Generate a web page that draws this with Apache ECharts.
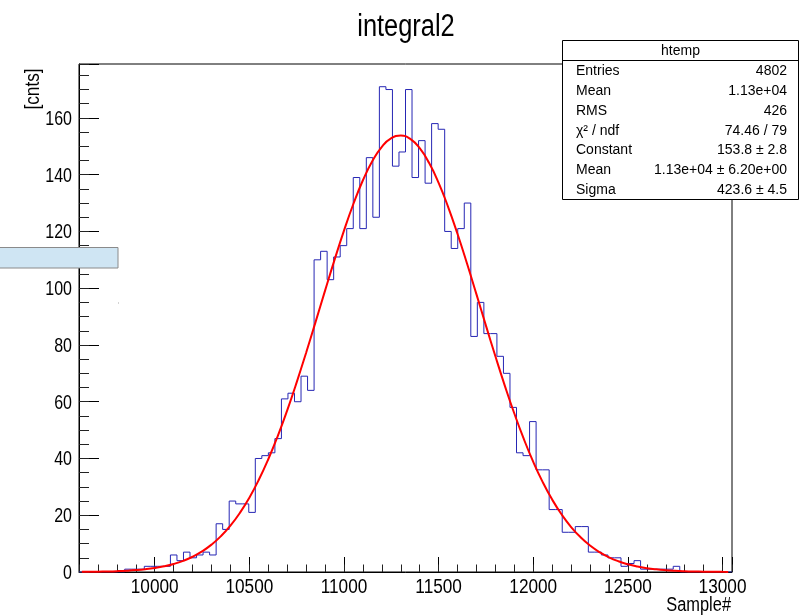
<!DOCTYPE html>
<html><head><meta charset="utf-8">
<script src="https://cdn.jsdelivr.net/npm/echarts@6/dist/echarts.min.js"></script>
<style>html,body{margin:0;padding:0;background:#fff}#c{width:800px;height:615px}</style>
</head><body><div id="c"></div>
<script>
// ---- data ----
const xMin = 9600, xMax = 13050, yMax = 179;
const counts = [
  0,0,0,0,0,0,0,1,1,1,
  2,2,2,2,6,4,7,5,6,7,
  6,17,15,25,24,24,21,40,41,42,
  47,61,63,60,69,64,110,113,103,111,
  115,121,139,121,146,125,171,170,143,148,
  170,139,152,137,158,156,120,114,121,130,
  83,95,84,84,76,70,58,42,41,53,
  36,36,22,22,14,14,16,16,7,7,
  6,5,5,2,3,4,1,1,1,1,
  1,2,0,0,0,0,0,0,0,0
];
const fitX = [9615,9650,9700,9750,9800,9850,9900,9950,10000,10050,10100,10150,10200,10250,10300,10350,10400,10450,10500,10550,10600,10650,10700,10750,10800,10850,10900,10950,11000,11050,11100,11150,11200,11250,11300,11350,11400,11450,11500,11550,11600,11650,11700,11750,11800,11850,11900,11950,12000,12050,12100,12150,12200,12250,12300,12350,12400,12450,12500,12550,12600,12650,12700,12750,12800,12850,12900,12950,13000,13030];
const fitY = [0.059,0.080,0.126,0.195,0.299,0.450,0.669,0.980,1.417,2.020,2.839,3.935,5.378,7.250,9.639,12.638,16.336,20.834,26.197,32.485,39.724,47.900,56.971,66.815,77.277,88.137,99.136,109.965,120.288,129.755,138.035,144.813,149.820,152.856,153.796,152.601,149.320,144.088,137.116,128.675,119.086,108.685,97.816,86.820,75.996,65.597,55.836,46.876,38.806,31.678,25.506,20.251,15.851,12.243,9.324,7.001,5.184,3.785,2.727,1.936,1.356,0.937,0.638,0.428,0.284,0.185,0.119,0.076,0.048,0.037];
const xTicks = [10000,10500,11000,11500,12000,12500,13000];
const yTicks = [0,20,40,60,80,100,120,140,160];
const statNames = ['Entries','Mean','RMS','\u03c7\u00b2 / ndf','Constant','Mean','Sigma'];
const statValues = ['4802','1.13e+04','426','74.46 / 79','153.8 \u00b1 2.8','1.13e+04 \u00b1 6.20e+00','423.6 \u00b1 4.5'];
const titleText = 'integral2', statTitle = 'htemp', xName = 'Sample#', yName = '[cnts]';

// ---- build ----
const nBins = counts.length, binW = (xMax - xMin) / nBins;
const histPts = counts.map((c, i) => [xMin + i * binW, c]);
histPts.push([xMax, counts[nBins - 1]]);
const fitPts = fitX.map((x, i) => [x, fitY[i]]);

const SANS = "'Liberation Sans',Arial,Helvetica,sans-serif";

const chart = echarts.init(document.getElementById('c'), null, {renderer:'canvas'});
chart.setOption({
  animation:false,
  backgroundColor:'#fff',
  grid:{left:79, right:68, top:64, bottom:43, show:true, borderColor:'#000', borderWidth:1, backgroundColor:'transparent', containLabel:false},
  xAxis:[
    {type:'value', min:xMin, max:xMax, splitNumber:5, minInterval:500, maxInterval:500,
     axisLine:{show:true, onZero:false, lineStyle:{color:'#000', width:1}},
     axisTick:{show:true, inside:true, length:15, lineStyle:{color:'#000'}},
     axisLabel:{show:false}, splitLine:{show:false}},
    {type:'value', min:xMin, max:xMax, interval:100, position:'bottom',
     axisLine:{show:false}, axisTick:{show:true, inside:true, length:7.5, lineStyle:{color:'#222'}},
     axisLabel:{show:false}, splitLine:{show:false}}
  ],
  yAxis:[
    {type:'value', min:0, max:yMax, interval:20, position:'left',
     axisLine:{show:true, onZero:false, lineStyle:{color:'#000', width:1}},
     axisTick:{show:true, inside:true, length:20, lineStyle:{color:'#000'}},
     axisLabel:{show:false}, splitLine:{show:false}},
    {type:'value', min:0, max:yMax, interval:5, position:'left', offset:0,
     axisLine:{show:false}, axisTick:{show:true, inside:true, length:10, lineStyle:{color:'#222'}},
     axisLabel:{show:false}, splitLine:{show:false}}
  ],
  series:[
    {type:'line', xAxisIndex:0, yAxisIndex:0, data:histPts, step:'end', symbol:'none', silent:true,
     lineStyle:{color:'#2626b4', width:1}, z:3},
    {type:'line', xAxisIndex:0, yAxisIndex:0, data:fitPts, smooth:true, symbol:'none', silent:true,
     lineStyle:{color:'#ff0000', width:2}, z:4}
  ]
});

// ---- texts & decorations (tick labels positioned through the axis scales) ----
const gfx = [];
function txt(t, x, y, size, align, opts) {
  return Object.assign({type:'text', x:x, y:y, z:102,
    style:{text:t, fontSize:size, fontFamily:SANS, fill:'#000', align:align, verticalAlign:'middle'}}, opts || {});
}
xTicks.forEach(v => {
  const px = chart.convertToPixel({xAxisIndex:0}, v);
  gfx.push(txt(String(v), px, 587.5, 20, 'center', {scaleX:0.86}));
});
yTicks.forEach(v => {
  const py = chart.convertToPixel({yAxisIndex:0}, v);
  gfx.push(txt(String(v), 72, py + 1.5, 20, 'right', {scaleX:0.8}));
});
gfx.push(txt(titleText, 406, 27, 31, 'center', {scaleX:0.82}));
gfx.push(txt(yName, 33, 89, 20, 'center', {rotation:Math.PI/2, scaleX:0.86}));
gfx.push(txt(xName, 731, 605, 20, 'right', {scaleX:0.82}));
// stray widget box on the left
gfx.push({type:'rect', z:50, shape:{x:-1, y:247.5, width:119, height:20.5}, style:{fill:'#cfe5f3', stroke:'#8a8a8a', lineWidth:1}});
gfx.push({type:'rect', z:50, shape:{x:118, y:302.5, width:1, height:1}, style:{fill:'#aaa'}});
// stats box
const bx = 562.5, by = 40.5, bw = 236, bh = 159;
gfx.push({type:'rect', z:100, shape:{x:bx, y:by, width:bw, height:bh}, style:{fill:'#fff', stroke:'#000', lineWidth:1}});
gfx.push({type:'line', z:101, shape:{x1:bx, y1:60.5, x2:bx+bw, y2:60.5}, style:{stroke:'#000', lineWidth:1}});
gfx.push(txt(statTitle, bx + bw/2, 51, 14, 'center'));
statNames.forEach((n, i) => {
  const yy = 71.3 + i * 19.8;
  gfx.push(txt(n, 576, yy, 14, 'left'));
  gfx.push(txt(statValues[i], 787, yy, 14, 'right'));
});
chart.setOption({graphic:gfx});
</script></body></html>
